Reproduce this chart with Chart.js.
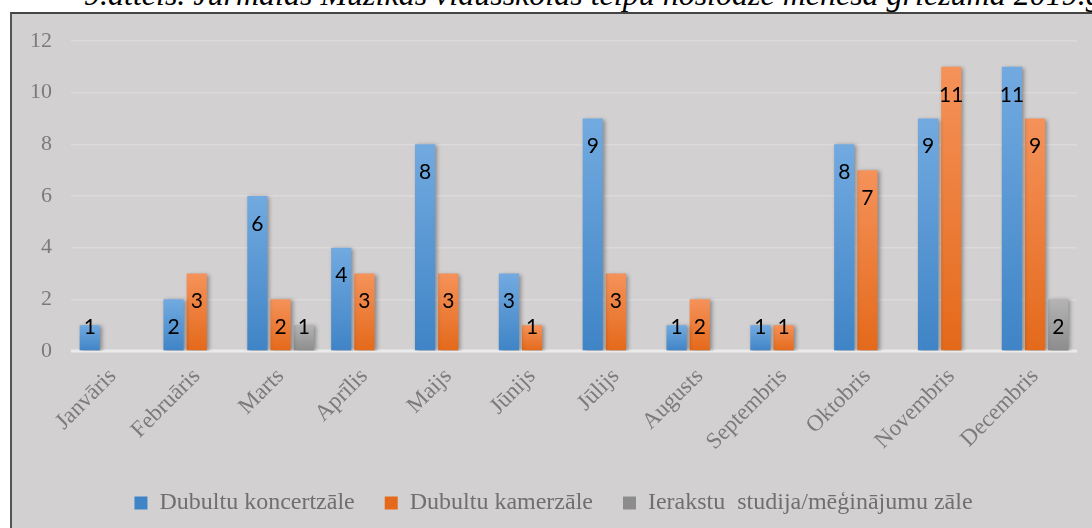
<!DOCTYPE html>
<html lang="lv">
<head>
<meta charset="utf-8">
<script src="https://cdn.jsdelivr.net/npm/chart.js@4.4.1/dist/chart.umd.min.js"></script>
<style>
    html, body {
        margin: 0;
        padding: 0;
        width: 1092px;
        height: 528px;
        overflow: hidden;
        background: #ffffff;
        position: relative;
    }
    .chart-title {
        position: absolute;
        left: 84px;
        top: -22px;
        font: italic 32px/32px "Liberation Serif", "Times New Roman", serif;
        color: #000000;
        white-space: nowrap;
    }
    .chart-frame {
        position: absolute;
        left: 10px;
        top: 12px;
        width: 1100px;
        height: 540px;
        background: #d3d0d1;
        border-left: 2px solid #555555;
        border-top: 2px solid #444444;
    }
    .chart-wrap {
        position: absolute;
        left: 0;
        top: 0;
        width: 1092px;
        height: 528px;
    }
</style>
</head>
<body>
<div class="chart-title">9.attēls. Jūrmalas Mūzikas vidusskolas telpu noslodze mēneša griezumā 2019.g.</div>
<div class="chart-frame"></div>
<div class="chart-wrap"><canvas id="chart-canvas"></canvas></div>
<script>
const months = ["Janvāris", "Februāris", "Marts", "Aprīlis", "Maijs", "Jūnijs", "Jūlijs", "Augusts", "Septembris", "Oktobris", "Novembris", "Decembris"];
const seriesNames = ["Dubultu koncertzāle", "Dubultu kamerzāle", "Ierakstu  studija/mēģinājumu zāle"];
const concertHall = [1, 2, 6, 4, 8, 3, 9, 1, 1, 8, 9, 11];
const chamberHall = [0, 3, 2, 3, 3, 1, 3, 2, 1, 7, 11, 9];
const studioHall = [0, 0, 1, 0, 0, 0, 0, 0, 0, 0, 0, 2];
const yTicks = [0, 2, 4, 6, 8, 10, 12];

// top / bottom colours of each bar gradient
const barColors = [
    ["#72aae0", "#3f84c6"],
    ["#f5925a", "#e4691a"],
    ["#b4b4b4", "#8c8c8c"],
];

const serifFont = "'Liberation Serif', 'Times New Roman', serif";

function barGradient(context) {
    const [light, dark] = barColors[context.datasetIndex];
    const chart = context.chart;
    if (!chart.chartArea || context.raw === undefined) return dark;

    const yScale = chart.scales.y;
    const top = yScale.getPixelForValue(context.raw);
    const base = yScale.getPixelForValue(0);
    if (base - top < 1) return dark;

    const gradient = chart.ctx.createLinearGradient(0, top, 0, base);
    gradient.addColorStop(0, light);
    gradient.addColorStop(1, dark);
    return gradient;
}

const barShadow = {
    id: "barShadow",
    beforeDatasetsDraw(chart) {
        const ctx = chart.ctx;
        ctx.save();
        ctx.shadowColor = "rgba(0, 0, 0, 0.35)";
        ctx.shadowBlur = 4;
        ctx.shadowOffsetX = 2;
        ctx.shadowOffsetY = 1;
    },
    afterDatasetsDraw(chart) {
        chart.ctx.restore();
    },
};

const valueLabels = {
    id: "valueLabels",
    afterDatasetsDraw(chart) {
        const ctx = chart.ctx;
        const base = chart.scales.y.getPixelForValue(0);
        ctx.save();
        ctx.font = "21px Lato, 'Open Sans', sans-serif";
        ctx.fillStyle = "#000000";
        ctx.textAlign = "center";
        ctx.textBaseline = "middle";

        chart.data.datasets.forEach((dataset, datasetIndex) => {
            const meta = chart.getDatasetMeta(datasetIndex);
            meta.data.forEach((bar, index) => {
                const value = dataset.data[index];
                if (!value) return;
                const labelY = Math.min(bar.y + 28, base - 24);
                ctx.fillText(String(value), bar.x, labelY);
            });
        });
        ctx.restore();
    },
};

const baseLine = {
    id: "baseLine",
    beforeDatasetsDraw(chart) {
        const ctx = chart.ctx;
        const { left, right } = chart.chartArea;
        const y = chart.scales.y.getPixelForValue(0);
        ctx.save();
        ctx.strokeStyle = "#ecebeb";
        ctx.lineWidth = 3;
        ctx.beginPath();
        ctx.moveTo(left, y);
        ctx.lineTo(right, y);
        ctx.stroke();
        ctx.restore();
    },
};

const datasets = [concertHall, chamberHall, studioHall].map((values, i) => ({
    label: seriesNames[i],
    data: values,
    backgroundColor: barGradient,
    borderWidth: 0,
    categoryPercentage: 0.83,
    barPercentage: 0.87,
}));

new Chart(document.getElementById("chart-canvas"), {
    type: "bar",
    data: {
        labels: months,
        datasets: datasets,
    },
    options: {
        responsive: true,
        maintainAspectRatio: false,
        animation: false,
        layout: {
            padding: { top: 41, left: 30, right: 15, bottom: 3 },
        },
        scales: {
            x: {
                grid: { display: false },
                border: { display: false },
                ticks: {
                    color: "#7b7b7b",
                    font: { family: serifFont, size: 23 },
                    minRotation: 45,
                    maxRotation: 45,
                    autoSkip: false,
                    padding: 4,
                },
                afterFit: (scale) => {
                    scale.height = 110;
                    scale.paddingLeft = 0;
                    scale.paddingRight = 0;
                },
            },
            y: {
                min: 0,
                max: 12,
                afterBuildTicks: (scale) => {
                    scale.ticks = yTicks.map((value) => ({ value }));
                },
                afterFit: (scale) => {
                    scale.width = 41;
                },
                grid: {
                    color: "#dbd9da",
                    lineWidth: 1.5,
                    drawTicks: false,
                },
                border: { display: false },
                ticks: {
                    color: "#7b7b7b",
                    font: { family: serifFont, size: 22 },
                    padding: 19,
                },
            },
        },
        plugins: {
            legend: {
                position: "bottom",
                labels: {
                    color: "#6f6f6f",
                    font: { family: serifFont, size: 24 },
                    boxWidth: 13,
                    boxHeight: 13,
                    padding: 30,
                    generateLabels: (chart) => chart.data.datasets.map((dataset, i) => ({
                        text: dataset.label,
                        fillStyle: barColors[i][1],
                        strokeStyle: barColors[i][1],
                        lineWidth: 0,
                        fontColor: "#6f6f6f",
                        datasetIndex: i,
                    })),
                },
            },
            tooltip: { enabled: false },
        },
    },
    plugins: [baseLine, barShadow, valueLabels],
});
</script>
</body>
</html>
